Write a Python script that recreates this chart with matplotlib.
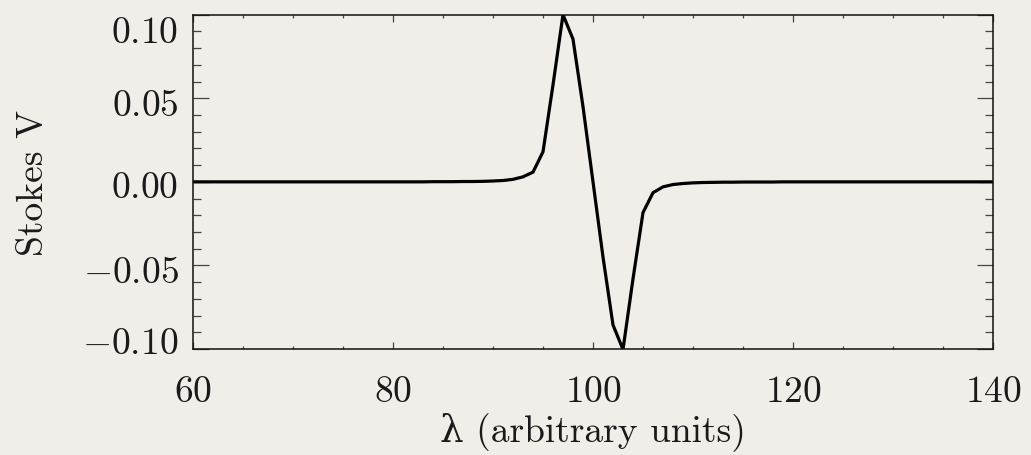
import matplotlib
matplotlib.use("Agg")
import matplotlib.pyplot as plt
import matplotlib.transforms as mtransforms
import numpy as np

# ---- data ----
wavelength = list(range(60, 141))
stokes_v = (
    [0.0] * 24 +                                   # 60..83
    [0.0001, 0.0001, 0.0001, 0.0002, 0.0002, 0.0003, 0.0005, 0.0008,   # 84..91
     0.0015, 0.0030, 0.0058, 0.0180, 0.0580, 0.1000, 0.0854, 0.0450,   # 92..99
     0.0,                                                              # 100
     -0.0450, -0.0856, -0.1003, -0.0580, -0.0184, -0.0065, -0.0030,    # 101..107
     -0.0016, -0.0010, -0.0006, -0.0004, -0.0003, -0.0002, -0.0002,    # 108..114
     -0.0001, -0.0001, -0.0001, -0.0001] +                             # 115..118
    [0.0] * 22                                     # 119..140
)
x_ticks = [60, 80, 100, 120, 140]
y_ticks = [-0.10, -0.05, 0.00, 0.05, 0.10]
x_label = "λ (arbitrary units)"
y_label = "Stokes V"

BG = "#f1eee9"
plt.rcParams["mathtext.fontset"] = "cm"
FONT = ["cmr10", "DejaVu Serif"]
FS = 27

fig = plt.figure(figsize=(10.31, 4.56), dpi=100, facecolor=BG)
ax = fig.add_axes([193 / 1031, 1 - 350 / 456, 800 / 1031, (350 - 15.7) / 456])
ax.set_facecolor(BG)

ax.plot(wavelength, stokes_v, color="black", lw=2.3, solid_joinstyle="miter")

ax.set_xlim(60, 140)
ax.set_ylim(-0.10, 0.10)

ax.set_xticks(x_ticks)
ax.set_xticks(np.arange(60, 141, 5), minor=True)
ax.set_yticks(y_ticks)
ax.set_yticks(np.arange(-0.10, 0.1001, 0.01), minor=True)

ax.set_xticklabels([f"${v:d}$" for v in x_ticks])
ax.set_yticklabels([f"${v:.2f}$" for v in y_ticks])

for s in ax.spines.values():
    s.set_linewidth(1.1)
    s.set_color("#111111")

ax.tick_params(axis="both", which="both", direction="in", top=True, right=True,
               color="#444444", width=0.9)
ax.tick_params(axis="y", which="major", length=11.5, pad=10.5, labelsize=FS)
ax.tick_params(axis="y", which="minor", length=5.8)
ax.tick_params(axis="x", which="major", length=4.8, pad=17, labelsize=FS)
ax.tick_params(axis="x", which="minor", length=2.4)

# vertical nudges of y tick labels (in points)
y_nudge = [7.5, -2.0, -1.0, -2.0, -9.5]
for lab, dy in zip(ax.get_yticklabels(), y_nudge):
    lab.set_transform(lab.get_transform() +
                      mtransforms.ScaledTranslation(0, dy / 72, fig.dpi_scale_trans))
for lab in ax.get_xticklabels() + ax.get_yticklabels():
    lab.set_color("#1a1a1a")

ax.set_xlabel(x_label, fontsize=FS, family=FONT, labelpad=2, color="#1a1a1a")
ax.set_ylabel(y_label, fontsize=FS, family=FONT, labelpad=23, color="#1a1a1a")

fig.savefig("out.png", dpi=100, facecolor=BG)
